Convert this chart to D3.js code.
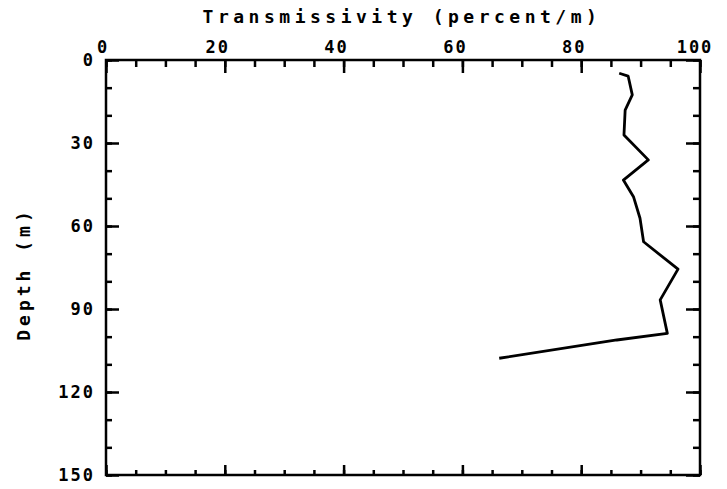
<!DOCTYPE html>
<html><head><meta charset="utf-8">
<script src="https://cdn.jsdelivr.net/npm/d3@7"></script>
<style>
body{margin:0;background:#fff;}
text{font-family:"DejaVu Sans Mono",monospace;font-weight:bold;fill:#000;}
</style></head>
<body>
<svg id="c" width="727" height="489"></svg>
<script>
const transmissivity = [86.4, 87.9, 88.6, 87.4, 87.2, 91.3, 87.1, 88.8, 89.9, 90.5, 96.3, 93.3, 94.5, 86.0, 66.2];
const depth          = [4.8, 5.8, 12.6, 18.1, 27.1, 36.1, 43.4, 49.4, 57.2, 65.7, 75.6, 86.7, 98.8, 101.2, 107.8];
const xTicks = [0, 20, 40, 60, 80, 100];
const yTicks = [0, 30, 60, 90, 120, 150];
const xTitle = "Transmissivity (percent/m)";
const yTitle = "Depth (m)";

const svg = d3.select("#c");
const L = 106, R = 700, T = 60, B = 475;
const x = d3.scaleLinear().domain([0, 100]).range([L, R]);
const y = d3.scaleLinear().domain([0, 150]).range([T, B]);

const xMinor = d3.range(0, 101, 5);
const yMinor = d3.range(0, 151, 10);

function styleAxis(g){
  g.select(".domain").remove();
  g.selectAll("line").attr("stroke","#000").attr("stroke-width",2.5);
}
// top axis: ticks inward (down)
svg.append("g").attr("transform",`translate(0,${T})`)
  .call(d3.axisBottom(x).tickValues(xMinor).tickSize(7).tickFormat(""))
  .call(styleAxis);
svg.append("g").attr("transform",`translate(0,${T})`)
  .call(d3.axisBottom(x).tickValues(xTicks).tickSize(13).tickFormat(""))
  .call(styleAxis);
// bottom axis: ticks inward (up)
svg.append("g").attr("transform",`translate(0,${B})`)
  .call(d3.axisTop(x).tickValues(xMinor).tickSize(5).tickFormat(""))
  .call(styleAxis);
svg.append("g").attr("transform",`translate(0,${B})`)
  .call(d3.axisTop(x).tickValues(xTicks).tickSize(10).tickFormat(""))
  .call(styleAxis);
// left axis: ticks inward (right)
svg.append("g").attr("transform",`translate(${L},0)`)
  .call(d3.axisRight(y).tickValues(yMinor).tickSize(6).tickFormat(""))
  .call(styleAxis);
svg.append("g").attr("transform",`translate(${L},0)`)
  .call(d3.axisRight(y).tickValues(yTicks).tickSize(13).tickFormat(""))
  .call(styleAxis);
// right axis: ticks inward (left)
svg.append("g").attr("transform",`translate(${R},0)`)
  .call(d3.axisLeft(y).tickValues(yMinor).tickSize(7).tickFormat(""))
  .call(styleAxis);
svg.append("g").attr("transform",`translate(${R},0)`)
  .call(d3.axisLeft(y).tickValues(yTicks).tickSize(14).tickFormat(""))
  .call(styleAxis);

// frame
svg.append("rect").attr("x",L).attr("y",T).attr("width",R-L).attr("height",B-T)
  .attr("fill","none").attr("stroke","#000").attr("stroke-width",2.5);

// tick labels
svg.append("g").selectAll("text").data(xTicks).join("text")
  .attr("x", d => x(d) - (d===0 ? 3 : d===100 ? 5 : 7)).attr("y", 53)
  .attr("text-anchor","middle").attr("font-size",17).attr("letter-spacing",2)
  .text(d => d);
svg.append("g").selectAll("text").data(yTicks).join("text")
  .attr("x", 95).attr("y", d => y(d) + 6)
  .attr("text-anchor","end").attr("font-size",17).attr("letter-spacing",2)
  .text(d => d);

// titles
svg.append("text").attr("x",402).attr("y",23).attr("text-anchor","middle")
  .attr("font-size",18).attr("letter-spacing",4.5).text(xTitle);
svg.append("text").attr("transform","translate(30,274) rotate(-90)")
  .attr("text-anchor","middle").attr("font-size",18).attr("letter-spacing",4).text(yTitle);

// data line
const line = d3.line().x((d,i)=>x(transmissivity[i])).y((d,i)=>y(depth[i]));
svg.append("path").datum(depth).attr("d",line).attr("fill","none")
  .attr("stroke","#000").attr("stroke-width",2.8).attr("stroke-linejoin","round");
</script>
</body></html>
